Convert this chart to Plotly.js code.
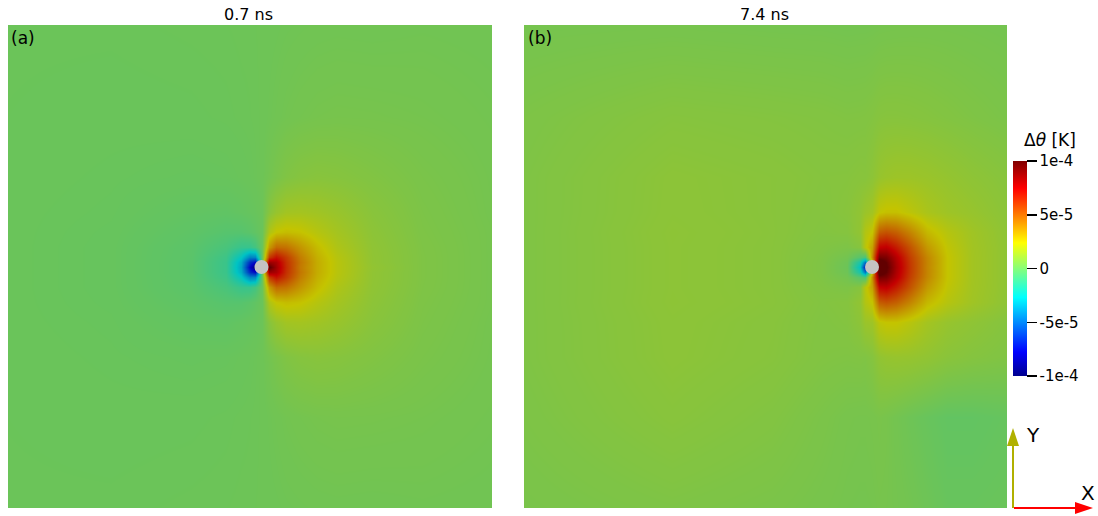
<!DOCTYPE html>
<html>
<head>
<meta charset="utf-8">
<script src="https://cdn.plot.ly/plotly-3.0.1.min.js"></script>
<style>html,body{margin:0;padding:0;background:#fff;}#chart{width:1098px;height:516px;}</style>
</head>
<body>
<div id="chart"></div>
<script>
// ---- Data (temperature change, in units of 1e-5 K) ----
const panelTitles = ["0.7 ns", "7.4 ns"];
const panelLabels = ["(a)", "(b)"];
const cbTickVals = [-10, -5, 0, 5, 10];
const cbTickText = ["-1e-4", "-5e-5", "0", "5e-5", "1e-4"];
const cbTitle = "Δ<i>θ</i> [K]";

// particle (hole) positions in panel units
const holeX = [253, 348];
const holeY = [242, 242];

// grid nodes (panel units, y downward)
const gridY = [0, 92, 152, 187, 207, 222, 232, 237, 242, 247, 252, 262, 277, 297, 332, 392, 483];
const gridXa = [0, 103, 183, 218, 233, 241, 246, 253, 260, 267, 277, 291, 308, 328, 363, 413, 483];
const gridXb = [0, 148, 248, 298, 323, 336, 341, 348, 355, 362, 372, 386, 403, 423, 448, 483];

// panel (a) field values, one row per gridY node
const fieldA = [
  [0.08,0.08,0.1,0.11,0.12,0.12,0.13,0.14,0.15,0.16,0.18,0.2,0.22,0.23,0.22,0.24,0.22],
  [0.07,0.05,0.06,0.08,0.1,0.11,0.12,0.14,0.18,0.22,0.28,0.33,0.37,0.39,0.38,0.35,0.28],
  [0.06,0.02,-0.02,0.0,0.04,0.07,0.1,0.15,0.3,0.45,0.63,0.76,0.82,0.78,0.65,0.47,0.32],
  [0.05,0.0,-0.15,-0.2,-0.12,-0.05,0.0,0.1,0.8,1.2,1.5,1.55,1.45,1.25,0.85,0.53,0.33],
  [0.05,-0.02,-0.25,-0.45,-0.45,-0.32,-0.18,0.05,1.8,2.4,2.6,2.45,2.0,1.55,0.95,0.56,0.35],
  [0.05,-0.03,-0.33,-0.8,-1.25,-1.25,-0.95,0.05,3.5,4.7,4.5,3.6,2.6,1.8,1.02,0.59,0.35],
  [0.05,-0.03,-0.35,-1.1,-2.6,-4.4,-4.3,0.05,6.0,7.0,5.9,4.2,2.9,2.0,1.05,0.6,0.35],
  [0.05,-0.03,-0.36,-1.2,-3.3,-6.7,-7.5,0.05,8.5,8.1,6.2,4.4,3.0,2.05,1.05,0.6,0.35],
  [0.05,-0.03,-0.36,-1.2,-3.5,-7.8,-9.8,0,10.2,8.4,6.3,4.3,3.0,2.05,1.1,0.6,0.35],
  [0.05,-0.03,-0.36,-1.2,-3.3,-6.7,-7.5,0.05,8.5,8.1,6.2,4.4,3.0,2.05,1.05,0.6,0.35],
  [0.05,-0.03,-0.35,-1.1,-2.6,-4.4,-4.3,0.05,6.0,7.0,5.9,4.2,2.9,2.0,1.05,0.6,0.35],
  [0.05,-0.03,-0.33,-0.8,-1.25,-1.25,-0.95,0.05,3.5,4.7,4.5,3.6,2.6,1.8,1.02,0.59,0.35],
  [0.05,-0.02,-0.25,-0.45,-0.45,-0.32,-0.18,0.05,1.8,2.4,2.6,2.45,2.0,1.55,0.95,0.56,0.35],
  [0.05,0.0,-0.15,-0.2,-0.12,-0.05,0.0,0.1,0.8,1.2,1.5,1.55,1.45,1.25,0.85,0.53,0.33],
  [0.06,0.02,-0.02,0.0,0.04,0.07,0.1,0.15,0.3,0.45,0.63,0.76,0.82,0.78,0.65,0.47,0.32],
  [0.07,0.05,0.06,0.08,0.1,0.11,0.12,0.14,0.18,0.22,0.28,0.33,0.37,0.39,0.38,0.35,0.28],
  [0.08,0.08,0.1,0.11,0.12,0.12,0.13,0.14,0.15,0.16,0.18,0.2,0.22,0.23,0.22,0.24,0.22]
];

// panel (b) field values, one row per gridY node
const fieldB = [
  [0.35,0.38,0.34,0.33,0.31,0.32,0.32,0.33,0.35,0.36,0.37,0.38,0.38,0.37,0.35,0.32],
  [0.55,0.78,0.72,0.68,0.64,0.65,0.66,0.7,0.78,0.8,0.8,0.78,0.74,0.68,0.6,0.5],
  [0.6,0.93,0.85,0.77,0.78,0.83,0.82,0.95,1.2,1.3,1.36,1.35,1.28,1.15,0.98,0.8],
  [0.6,0.94,0.85,0.74,0.82,1.05,1.3,1.5,2.3,2.5,2.5,2.15,1.7,1.4,1.2,0.9],
  [0.6,0.97,0.86,0.7,0.75,1.08,1.9,2.4,5.05,5.32,4.98,4.02,2.71,2.0,1.44,0.97],
  [0.6,0.96,0.85,0.65,0.55,0.78,2.1,3.3,7.39,7.59,6.75,5.28,3.5,2.27,1.5,1.0],
  [0.6,0.96,0.85,0.61,0.3,-0.43,-0.74,3.8,9.46,9.27,7.83,5.8,3.95,2.4,1.52,1.0],
  [0.6,0.96,0.85,0.6,0.15,-2.03,-4.74,2.6,10.9,9.94,8.07,5.95,4.02,2.4,1.52,1.0],
  [0.6,0.96,0.85,0.6,0.1,-2.73,-7.24,0.75,11.5,10.2,8.2,6.0,4.0,2.4,1.52,1.0],
  [0.6,0.96,0.85,0.6,0.15,-2.03,-4.74,2.6,10.9,9.94,8.07,5.95,4.02,2.4,1.52,1.0],
  [0.6,0.96,0.85,0.61,0.3,-0.43,-0.74,3.8,9.46,9.27,7.83,5.8,3.95,2.4,1.52,1.0],
  [0.6,0.96,0.85,0.65,0.55,0.78,2.1,3.3,7.39,7.59,6.75,5.28,3.5,2.27,1.5,1.0],
  [0.6,0.97,0.86,0.7,0.75,1.08,1.9,2.4,5.05,5.32,4.98,4.02,2.71,2.0,1.44,0.97],
  [0.6,0.94,0.82,0.67,0.72,0.94,1.3,1.4,2.2,2.4,2.4,2.05,1.55,1.2,1.0,0.75],
  [0.6,0.93,0.8,0.65,0.62,0.64,0.62,0.75,1.06,1.16,1.2,1.17,1.06,0.87,0.74,0.62],
  [0.55,0.83,0.67,0.5,0.4,0.38,0.38,0.4,0.45,0.4,0.3,0.15,0.0,-0.15,-0.15,-0.05],
  [0.45,0.58,0.49,0.4,0.35,0.34,0.34,0.35,0.38,0.37,0.34,0.28,0.15,0.0,0.0,0.05]
];

// ---- Styling ----
const W = 1098, H = 516;
const px = v => v / W;
const py = v => 1 - v / H;
const FONT = "DejaVu Sans";
const jet = [
  [0.0, "rgb(0,0,143)"],
  [0.1111, "rgb(0,0,255)"],
  [0.3651, "rgb(0,255,255)"],
  [0.4921, "rgb(128,255,128)"],
  [0.6190, "rgb(255,255,0)"],
  [0.8730, "rgb(255,0,0)"],
  [1.0, "rgb(128,0,0)"]
];

const traces = [
  {type: "heatmap", x: gridXa, y: gridY, z: fieldA, zsmooth: "best",
   coloraxis: "coloraxis", xaxis: "x", yaxis: "y", hoverinfo: "skip"},
  {type: "heatmap", x: gridXb, y: gridY, z: fieldB, zsmooth: "best",
   coloraxis: "coloraxis", xaxis: "x2", yaxis: "y2", hoverinfo: "skip"},
  {type: "scatter", mode: "markers", x: [holeX[0]], y: [holeY[0]], xaxis: "x", yaxis: "y",
   marker: {size: 14, color: "#ffffff", line: {width: 0}}, hoverinfo: "skip", showlegend: false},
  {type: "scatter", mode: "markers", x: [holeX[1]], y: [holeY[1]], xaxis: "x2", yaxis: "y2",
   marker: {size: 14, color: "#ffffff", line: {width: 0}}, hoverinfo: "skip", showlegend: false}
];

const axBase = {visible: false, showgrid: false, zeroline: false, fixedrange: true};
const olive = "#b0b000";
const layout = {
  width: W, height: H,
  margin: {l: 0, r: 0, t: 0, b: 0},
  paper_bgcolor: "#ffffff", plot_bgcolor: "#ffffff",
  showlegend: false,
  font: {family: FONT, color: "#000"},
  xaxis: Object.assign({}, axBase, {domain: [px(8), px(492)], range: [0, 483]}),
  yaxis: Object.assign({}, axBase, {domain: [py(508), py(25)], range: [483, 0]}),
  xaxis2: Object.assign({}, axBase, {domain: [px(524), px(1007)], range: [0, 483]}),
  yaxis2: Object.assign({}, axBase, {domain: [py(508), py(25)], range: [483, 0]}),
  coloraxis: {
    colorscale: jet, cmin: -10, cmax: 10,
    colorbar: {
      x: px(1013), xanchor: "left", xpad: 0, ypad: 0,
      y: py(268.5), yanchor: "middle", len: 215 / H, lenmode: "fraction",
      thickness: 14, thicknessmode: "pixels", outlinewidth: 0,
      ticks: "outside", ticklen: 10, tickwidth: 1.5, tickcolor: "#000",
      tickvals: cbTickVals, ticktext: cbTickText,
      tickfont: {family: FONT, size: 15, color: "#000"},
      title: {text: ""}
    }
  },
  shapes: [
    {type: "rect", xref: "x domain", yref: "y domain", x0: 0, x1: 1, y0: 0, y1: 1,
     fillcolor: "rgba(0,0,0,0.23)", line: {width: 0}, layer: "above"},
    {type: "rect", xref: "x2 domain", yref: "y2 domain", x0: 0, x1: 1, y0: 0, y1: 1,
     fillcolor: "rgba(0,0,0,0.23)", line: {width: 0}, layer: "above"},
    {type: "line", xref: "paper", yref: "paper", x0: px(1013), x1: px(1013), y0: py(508), y1: py(444),
     line: {color: olive, width: 2}},
    {type: "path", xref: "paper", yref: "paper",
     path: `M ${px(1007)} ${py(446)} L ${px(1019)} ${py(446)} L ${px(1013)} ${py(428)} Z`,
     fillcolor: olive, line: {width: 0}},
    {type: "line", xref: "paper", yref: "paper", x0: px(1014), x1: px(1077), y0: py(508), y1: py(508),
     line: {color: "#ff0000", width: 2}},
    {type: "path", xref: "paper", yref: "paper",
     path: `M ${px(1075)} ${py(502)} L ${px(1075)} ${py(514)} L ${px(1093)} ${py(508)} Z`,
     fillcolor: "#ff0000", line: {width: 0}}
  ],
  annotations: [
    {text: panelTitles[0], xref: "paper", yref: "paper", x: px(248), y: py(14), xanchor: "center", yanchor: "middle",
     showarrow: false, font: {family: FONT, size: 16, color: "#000"}},
    {text: panelTitles[1], xref: "paper", yref: "paper", x: px(764), y: py(14), xanchor: "center", yanchor: "middle",
     showarrow: false, font: {family: FONT, size: 16, color: "#000"}},
    {text: panelLabels[0], xref: "paper", yref: "paper", x: px(9), y: py(38), xanchor: "left", yanchor: "middle",
     showarrow: false, font: {family: FONT, size: 17, color: "#000"}},
    {text: panelLabels[1], xref: "paper", yref: "paper", x: px(526), y: py(38), xanchor: "left", yanchor: "middle",
     showarrow: false, font: {family: FONT, size: 17, color: "#000"}},
    {text: cbTitle, xref: "paper", yref: "paper", x: px(1050), y: py(140), xanchor: "center", yanchor: "middle",
     showarrow: false, font: {family: FONT, size: 17, color: "#000"}},
    {text: "Y", xref: "paper", yref: "paper", x: px(1033), y: py(435), xanchor: "center", yanchor: "middle",
     showarrow: false, font: {family: FONT, size: 20, color: "#000"}},
    {text: "X", xref: "paper", yref: "paper", x: px(1088), y: py(493), xanchor: "center", yanchor: "middle",
     showarrow: false, font: {family: FONT, size: 20, color: "#000"}}
  ]
};

Plotly.newPlot("chart", traces, layout, {displayModeBar: false, staticPlot: true});
</script>
</body>
</html>
